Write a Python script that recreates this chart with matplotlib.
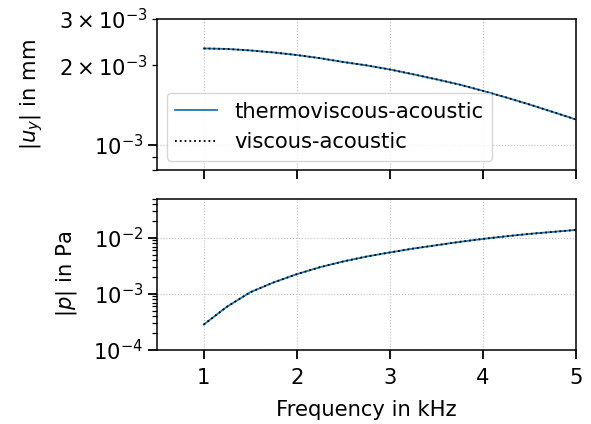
import matplotlib
matplotlib.use("Agg")
import matplotlib.pyplot as plt

# Data
freq = [1.0, 1.25, 1.5, 1.75, 2.0, 2.25, 2.5, 2.75, 3.0,
        3.25, 3.5, 3.75, 4.0, 4.25, 4.5, 4.75, 5.0]
uy_mm = [2.32e-3, 2.31e-3, 2.28e-3, 2.24e-3, 2.19e-3, 2.13e-3, 2.06e-3, 2.00e-3, 1.93e-3,
         1.85e-3, 1.77e-3, 1.69e-3, 1.60e-3, 1.51e-3, 1.42e-3, 1.33e-3, 1.245e-3]
p_pa = [2.83e-4, 5.9e-4, 1.07e-3, 1.6e-3, 2.25e-3, 3.0e-3, 3.8e-3, 4.65e-3, 5.5e-3,
        6.45e-3, 7.4e-3, 8.5e-3, 9.6e-3, 1.07e-2, 1.18e-2, 1.28e-2, 1.39e-2]

plt.rcParams['font.size'] = 15.2

fig, (ax1, ax2) = plt.subplots(2, 1, sharex=True, figsize=(5.91, 4.24), dpi=100)
fig.subplots_adjust(left=0.266, right=0.975, top=0.955, bottom=0.175, hspace=0.19)

ax1.plot(freq, uy_mm, color='tab:blue', lw=1.3, label='thermoviscous-acoustic')
ax1.plot(freq, uy_mm, color='black', lw=1.3, ls=':', label='viscous-acoustic')
ax1.set_yscale('log')
ax1.set_ylim(0.8e-3, 3e-3)
ax1.set_ylabel('$|u_y|$ in mm', labelpad=10)
ax1.legend(loc='lower left', borderaxespad=0.45)

ax2.plot(freq, p_pa, color='tab:blue', lw=1.3)
ax2.plot(freq, p_pa, color='black', lw=1.3, ls=':')
ax2.set_yscale('log')
ax2.set_ylim(1e-4, 5e-2)
ax2.set_ylabel('$|p|$ in Pa', labelpad=10)
ax2.set_xlim(0.5, 5)
ax2.set_xticks([1, 2, 3, 4, 5])
ax2.set_xlabel('Frequency in kHz', labelpad=9)

for ax in (ax1, ax2):
    ax.grid(True, which='major', ls=':', color='0.75', lw=0.8)
    ax.tick_params(which='major', length=6.5, width=1.3)
    ax.tick_params(which='minor', length=3.5, width=0.9)
    ax.tick_params(axis='x', which='major', pad=6.5)
    for s in ax.spines.values():
        s.set_linewidth(1.1)

fig.savefig('out.png', dpi=100)
